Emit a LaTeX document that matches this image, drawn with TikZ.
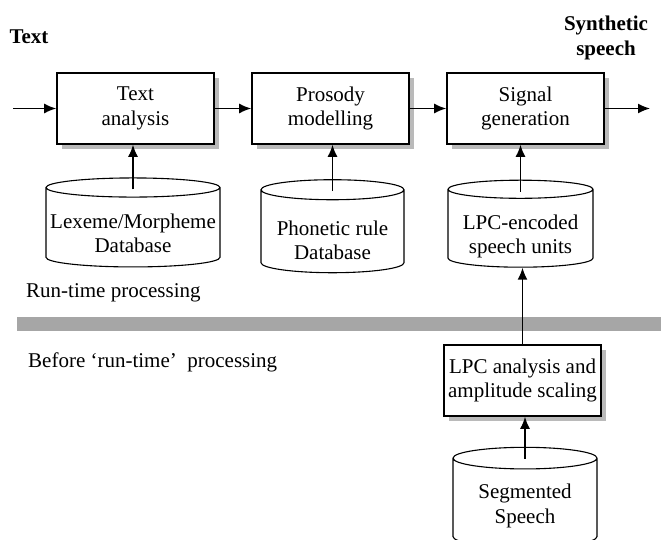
\documentclass[tikz,border=0pt]{standalone}
\usepackage{fontspec}
\setmainfont{Liberation Serif}
\usetikzlibrary{shapes.geometric,shadows,arrows.meta}

\begin{document}
\begin{tikzpicture}[x=1pt,y=-1pt,
  bloque/.style={draw=black, line width=1.6pt, rectangle, fill=white, minimum width=157pt, minimum height=71pt, inner sep=2pt, align=center, font=\fontsize{21}{24.5}\selectfont, drop shadow={shadow xshift=5pt, shadow yshift=-5pt, fill=black!27, opacity=1}},
  datos/.style={draw=black, line width=1.1pt, cylinder, shape border rotate=90, inner sep=0pt},
  texto/.style={align=center, inner sep=0pt, font=\fontsize{21}{24.5}\selectfont},
  flecha/.style={line width=1.5pt, -{Latex[length=12pt,width=10pt]}},
  rotulo/.style={font=\fontsize{21}{24.5}\selectfont, inner sep=0pt}
]
\useasboundingbox (0,0) rectangle (661,540);

\fill[black!35] (17,317) rectangle (661,331);

\node[rotulo, font=\fontsize{21}{24.5}\selectfont\bfseries] (entrada) at (29,37) {Text};
\node[rotulo, font=\fontsize{21}{24.5}\selectfont\bfseries, align=center] (salida) at (606,38) {Synthetic\\speech};

\node[bloque] (ta) at (135.5,108.5) {Text\\analysis};
\node[bloque] (pm) at (330.5,108.5) {Prosody\\modelling};
\node[bloque] (sg) at (525.5,108.5) {Signal\\generation};
\node[bloque] (lpc) at (522.5,380.5) {LPC analysis and\\amplitude scaling};

\node[datos, text width=174pt, aspect=0.11, minimum height=89pt,
  label={[texto, yshift=-6pt]center:Lexeme/Morpheme\\Database}] (lex) at (133,227.5) {};
\node[datos, text width=143pt, aspect=0.14, minimum height=93pt,
  label={[texto, yshift=-9pt]center:Phonetic rule\\Database}] (fon) at (332.5,231.5) {};
\node[datos, text width=145pt, aspect=0.125, minimum height=87pt,
  label={[texto, yshift=-8pt]center:LPC-encoded\\speech units}] (uni) at (520.5,228.5) {};
\node[datos, text width=144pt, aspect=0.15, minimum height=100pt,
  label={[texto, yshift=-3pt]center:Segmented\\Speech}] (seg) at (525,503) {};

\node[rotulo, anchor=west] (rt) at (26,293) {Run-time processing};
\node[rotulo, anchor=west] (brt) at (28,362) {Before ‘run-time’~ processing};

\coordinate (ent) at (13,108.5);
\coordinate (sal) at (650,108.5);

\draw[flecha] (ent) -- (ta);
\draw[flecha] (ta) -- (pm);
\draw[flecha] (pm) -- (sg);
\draw[flecha] (sg) -- (sal);

\draw[flecha] ([yshift=-12pt]lex.top) -- (lex.top |- ta.south);
\draw[flecha] ([yshift=-12pt]fon.top) -- (fon.top |- pm.south);
\draw[flecha] ([yshift=-12pt]uni.top) -- (uni.top |- sg.south);
\draw[flecha] (lpc.north) -- (lpc.north |- uni.south);
\draw[flecha] ([yshift=-12pt]seg.top) -- (seg.top |- lpc.south);
\end{tikzpicture}
\end{document}
